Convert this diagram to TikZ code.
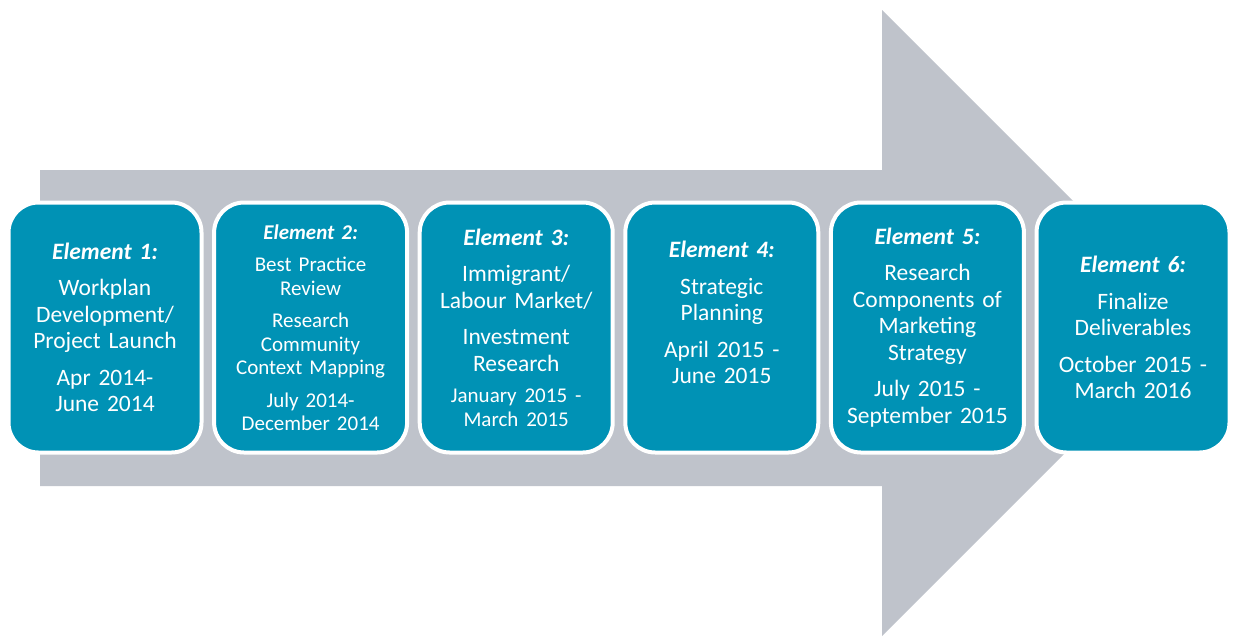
\documentclass[tikz,border=0pt]{standalone}
\usepackage{fontspec}
\setmainfont{Carlito}
\usepackage{tikz}
\definecolor{elemblue}{RGB}{0,146,181}
\definecolor{arrowgray}{RGB}{191,195,203}
\tikzstyle{elem} = [rectangle, rounded corners=30pt, fill=elemblue, draw=white, line width=4pt, minimum width=193pt, minimum height=250pt]
\tikzstyle{elemtext} = [text=white, align=center, text width=190pt, font=\fontsize{23.5}{26.5}\selectfont]
\tikzstyle{smalltext} = [elemtext, font=\fontsize{21}{23.5}\selectfont]

\begin{document}
\begin{tikzpicture}[x=1pt, y=-1pt, node distance=205.6pt]
		\useasboundingbox (0,0) rectangle (1234,638);
		% big arrow behind the elements
		\fill [arrowgray] (40,170) -- (882,170) -- (882,10) -- (1195,323) -- (882,636) -- (882,486) -- (40,486) -- cycle;
		\node (b1) [elem] at (105,327.5) {};
		\node (b2) [elem, right of=b1] {};
		\node (b3) [elem, right of=b2] {};
		\node (b4) [elem, right of=b3] {};
		\node (b5) [elem, right of=b4] {};
		\node (b6) [elem, right of=b5] {};
		\node (t1) [elemtext] at (b1) {\textbf{\textit{Element 1:}}\\[10pt] Workplan\\ Development/\\ Project Launch\\[10pt] Apr 2014-\\ June 2014};
		\node (t2) [smalltext] at (b2) {\textbf{\textit{Element 2:}}\\[9pt] Best Practice\\ Review\\[9pt] Research\\ Community\\ Context Mapping\\[9pt] July 2014-\\ December 2014};
		\node (t3) [elemtext] at (b3) {\textbf{\textit{Element 3:}}\\[10pt] Immigrant/\\ Labour Market/\\[10pt] Investment\\ Research\\[8pt] {\fontsize{21}{23.5}\selectfont January 2015 -\\ March 2015\par}};
		\node (t4) [elemtext, yshift=15pt] at (b4) {\textbf{\textit{Element 4:}}\\[10pt] Strategic\\ Planning\\[10pt] April 2015 -\\ June 2015};
		\node (t5) [elemtext] at (b5) {\textbf{\textit{Element 5:}}\\[10pt] Research\\ Components of\\ Marketing\\ Strategy\\[10pt] July 2015 -\\ September 2015};
		\node (t6) [elemtext] at (b6) {\textbf{\textit{Element 6:}}\\[10pt] Finalize\\ Deliverables\\[10pt] October 2015 -\\ March 2016};
	\end{tikzpicture}
\end{document}
